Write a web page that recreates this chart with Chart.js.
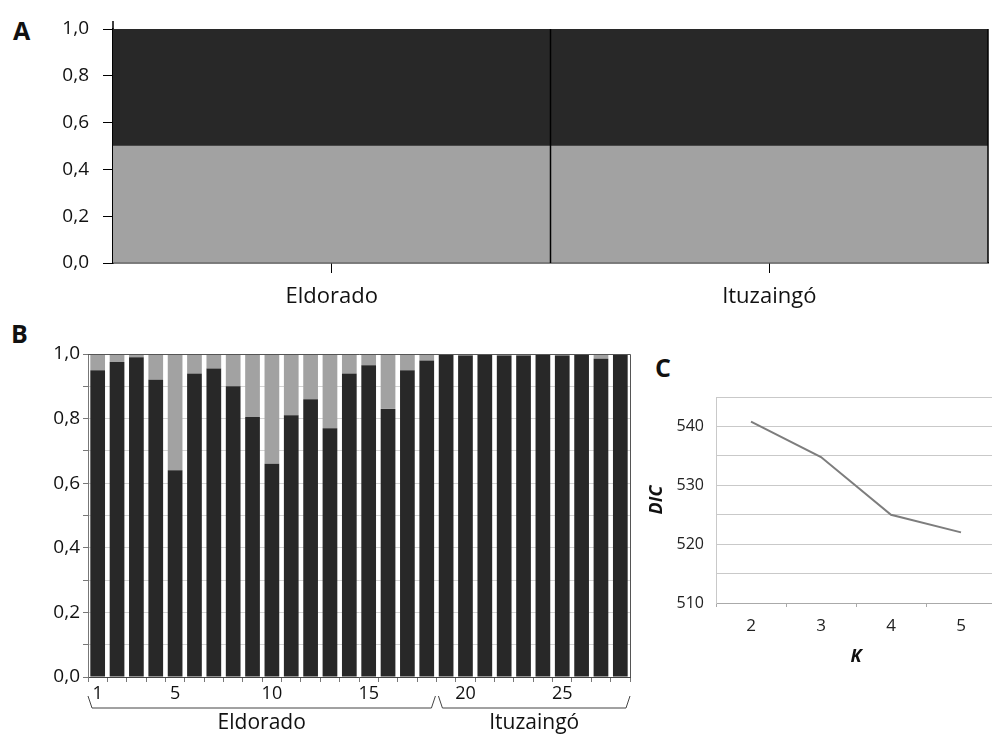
<!DOCTYPE html>
<html>
<head>
<meta charset="utf-8">
<script src="https://cdn.jsdelivr.net/npm/chart.js@4.4.0/dist/chart.umd.min.js"></script>
<style>
  html, body { margin: 0; padding: 0; background: #fff; width: 992px; height: 734px; overflow: hidden; }
  .box { position: absolute; }
  .letter { position: absolute; font-family: 'Open Sans', sans-serif; font-weight: 700; font-size: 25px; line-height: 34px; color: #111; }
</style>
</head>
<body>
<div class="letter" style="left:13px;top:13px">A</div>
<div class="letter" style="left:11px;top:316px">B</div>
<div class="letter" style="left:655px;top:350px">C</div>

<div class="box" style="left:0;top:0;width:993px;height:320px"><canvas id="chartA"></canvas></div>
<div class="box" style="left:0;top:310px;width:640px;height:424px"><canvas id="chartB"></canvas></div>
<div class="box" style="left:640px;top:340px;width:360px;height:334px"><canvas id="chartC"></canvas></div>

<script>
// panel A: population level membership
const popA = ['Eldorado', 'Ituzaingó'];
const clusterA1 = [0.5, 0.5];   // gray, bottom
const clusterA2 = [0.5, 0.5];   // dark, top

// panel B: individual membership
const individuals = ['1','2','3','4','5','6','7','8','9','10','11','12','13','14',
  '15','16','17','18','19','20','21','22','23','24','25','26','27','28'];
const clusterB1 = [0.95, 0.975, 0.99, 0.92, 0.64, 0.94, 0.955, 0.90, 0.805, 0.66, 0.81, 0.86, 0.77, 0.94,
  0.965, 0.83, 0.95, 0.98, 1.0, 0.995, 1.0, 0.995, 0.995, 1.0, 0.995, 1.0, 0.985, 1.0];
const clusterB2 = [0.05, 0.025, 0.01, 0.08, 0.36, 0.06, 0.045, 0.10, 0.195, 0.34, 0.19, 0.14, 0.23, 0.06,
  0.035, 0.17, 0.05, 0.02, 0.0, 0.005, 0.0, 0.005, 0.005, 0.0, 0.005, 0.0, 0.015, 0.0];
const groupNames = ['Eldorado', 'Ituzaingó'];
const groupSizes = [18, 10];

// panel C: DIC by K
const kValues = ['2', '3', '4', '5'];
const dicValues = [540.8, 534.8, 525.0, 522.0];

const DARK = '#282828';
const GRAY = '#a2a2a2';
const FONT = "'Open Sans', sans-serif";
const comma = v => Number(v).toFixed(1).replace('.', ',');

Chart.defaults.font.family = FONT;
Chart.defaults.color = '#111';

const dividers = {
  id: 'dividers',
  afterDatasetsDraw(chart) {
    const { ctx, chartArea, scales: { x } } = chart;
    ctx.save();
    ctx.strokeStyle = '#000';
    ctx.lineWidth = 1.5;
    for (let i = 1; i < popA.length; i++) {
      const px = (x.getPixelForValue(i - 1) + x.getPixelForValue(i)) / 2;
      ctx.beginPath();
      ctx.moveTo(px, chartArea.top);
      ctx.lineTo(px, chartArea.bottom);
      ctx.stroke();
    }
    ctx.beginPath();
    ctx.moveTo(chartArea.right, chartArea.top);
    ctx.lineTo(chartArea.right, chartArea.bottom);
    ctx.stroke();
    // axis line runs a little above the 1,0 tick
    ctx.beginPath();
    ctx.moveTo(chartArea.left, chartArea.top - 8);
    ctx.lineTo(chartArea.left, chartArea.top);
    ctx.stroke();
    ctx.restore();
  }
};

new Chart(document.getElementById('chartA'), {
  type: 'bar',
  data: {
    labels: popA,
    datasets: [
      { data: clusterA1, backgroundColor: GRAY, barPercentage: 1, categoryPercentage: 1 },
      { data: clusterA2, backgroundColor: DARK, barPercentage: 1, categoryPercentage: 1 }
    ]
  },
  options: {
    responsive: true,
    maintainAspectRatio: false,
    animation: false,
    layout: { padding: { top: 29, right: 5, left: 0, bottom: 0 } },
    plugins: { legend: { display: false }, tooltip: { enabled: false } },
    scales: {
      x: {
        stacked: true,
        grid: { offset: false, drawOnChartArea: false, color: '#000', tickLength: 10 },
        border: { color: '#000', width: 1.5 },
        ticks: { font: { size: 22 }, padding: 11, maxRotation: 0 },
        afterFit: s => { s.height = 57; }
      },
      y: {
        stacked: true,
        min: 0,
        max: 1,
        grid: { drawOnChartArea: false, color: '#000', tickLength: 10 },
        border: { color: '#000', width: 1.5 },
        ticks: { stepSize: 0.2, font: { size: 19 }, padding: 14, callback: v => comma(v) },
        afterFit: s => { s.width = 113; }
      }
    }
  },
  plugins: [dividers]
});

const frameB = {
  id: 'frameB',
  afterDatasetsDraw(chart) {
    const { ctx, chartArea: a } = chart;
    ctx.save();
    ctx.strokeStyle = '#555';
    ctx.lineWidth = 1;
    ctx.beginPath();
    ctx.moveTo(a.left, a.top + 0.5);
    ctx.lineTo(a.right + 0.5, a.top + 0.5);
    ctx.lineTo(a.right + 0.5, a.bottom);
    ctx.stroke();
    ctx.restore();
  }
};

const brackets = {
  id: 'brackets',
  afterDraw(chart) {
    const { ctx, chartArea, scales: { x } } = chart;
    const slot = x.getPixelForValue(1) - x.getPixelForValue(0);
    const y0 = chartArea.bottom + 19;
    const y1 = chartArea.bottom + 31;
    ctx.save();
    ctx.strokeStyle = '#444';
    ctx.lineWidth = 1;
    ctx.fillStyle = '#111';
    ctx.font = '21px ' + FONT;
    ctx.textAlign = 'center';
    ctx.textBaseline = 'middle';
    let start = 0;
    groupSizes.forEach((n, g) => {
      const xa = x.getPixelForValue(start) - slot / 2 + (g > 0 ? 2 : 0);
      const xb = x.getPixelForValue(start + n - 1) + slot / 2 - (g === 0 ? 1 : 0);
      ctx.beginPath();
      ctx.moveTo(xa, y0);
      ctx.lineTo(xa + 4, y1);
      ctx.lineTo(xb - 4, y1);
      ctx.lineTo(xb, y0);
      ctx.stroke();
      ctx.fillText(groupNames[g], (xa + xb) / 2, y1 + 15);
      start += n;
    });
    ctx.restore();
  }
};

new Chart(document.getElementById('chartB'), {
  type: 'bar',
  data: {
    labels: individuals,
    datasets: [
      { data: clusterB1, backgroundColor: DARK, barPercentage: 0.76, categoryPercentage: 1 },
      { data: clusterB2, backgroundColor: GRAY, barPercentage: 0.76, categoryPercentage: 1 }
    ]
  },
  options: {
    responsive: true,
    maintainAspectRatio: false,
    animation: false,
    layout: { padding: { top: 44, right: 10, left: 0, bottom: 0 } },
    plugins: { legend: { display: false }, tooltip: { enabled: false } },
    scales: {
      x: {
        stacked: true,
        grid: { offset: true, drawOnChartArea: false, color: '#777', tickLength: 5 },
        border: { color: '#444' },
        ticks: {
          font: { size: 18 }, padding: 1, maxRotation: 0, autoSkip: false,
          callback: (v, i) => (i === 0 || (i + 1) % 5 === 0) ? individuals[i] : ''
        },
        afterFit: s => { s.height = 57; }
      },
      y: {
        stacked: true,
        min: 0,
        max: 1,
        grid: { color: '#d4d4d4', tickColor: '#777', tickLength: 5 },
        border: { color: '#777' },
        ticks: {
          stepSize: 0.1, autoSkip: false, font: { size: 19 }, padding: 3,
          callback: (v, i) => i % 2 === 0 ? comma(v) : ''
        },
        afterFit: s => { s.width = 88; }
      }
    }
  },
  plugins: [frameB, brackets]
});

new Chart(document.getElementById('chartC'), {
  type: 'line',
  data: {
    labels: kValues,
    datasets: [{
      data: dicValues,
      borderColor: '#7d7d7d',
      borderWidth: 2,
      pointRadius: 0,
      tension: 0
    }]
  },
  options: {
    responsive: true,
    maintainAspectRatio: false,
    animation: false,
    layout: { padding: { top: 57, right: 4, left: 0, bottom: 6 } },
    plugins: { legend: { display: false }, tooltip: { enabled: false } },
    scales: {
      x: {
        offset: true,
        grid: { offset: true, drawOnChartArea: false, color: '#aaa', tickLength: 4 },
        border: { color: '#aaa' },
        ticks: { font: { size: 17 }, padding: 9, color: '#222' },
        title: { display: true, text: 'K', font: { size: 18, weight: 'bold', style: 'italic' }, padding: { top: 0, bottom: 0 } },
        afterFit: s => { s.height = 65; }
      },
      y: {
        min: 510,
        max: 545,
        grid: { color: '#c9c9c9', drawTicks: false },
        border: { color: '#c9c9c9' },
        ticks: {
          stepSize: 5, autoSkip: false, font: { size: 16 }, padding: 12, color: '#222',
          callback: v => v % 10 === 0 ? v : ''
        },
        title: { display: true, text: 'DIC', font: { size: 18, weight: 'bold', style: 'italic' }, padding: { top: 6, bottom: 0 } },
        afterFit: s => { s.width = 76; }
      }
    }
  }
});
</script>
</body>
</html>
